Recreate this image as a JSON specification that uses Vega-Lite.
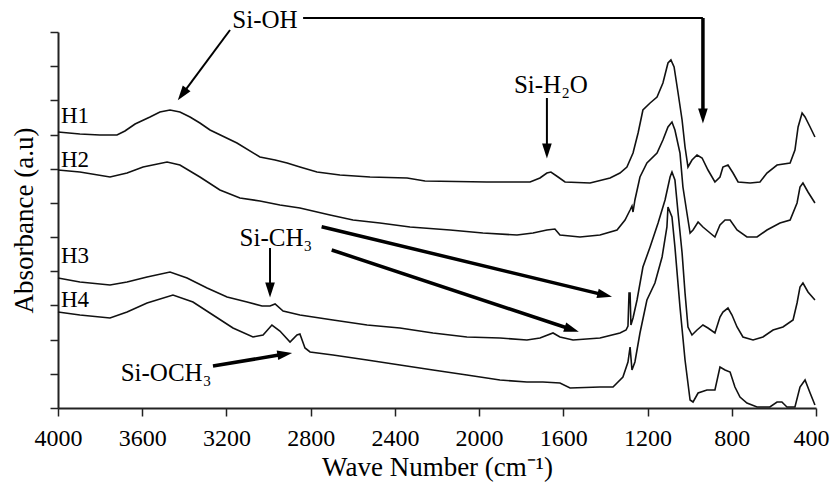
{
 "$schema": "https://vega.github.io/schema/vega-lite/v6.json",
 "width": 758, "height": 376,
 "autosize": {"type": "none"},
 "padding": {"left": 58, "top": 32, "right": 14, "bottom": 83},
 "background": "white",
 "config": {"view": {"stroke": null}, "font": "Liberation Serif, Times New Roman, serif"},
 "datasets": {
  "curves": [
   {"s":"H1","wn":4000,"a":276},{"s":"H1","wn":3896,"a":274},{"s":"H1","wn":3801,"a":273},{"s":"H1","wn":3720,"a":273},{"s":"H1","wn":3682,"a":277},{"s":"H1","wn":3634,"a":284},{"s":"H1","wn":3563,"a":291},{"s":"H1","wn":3516,"a":296},{"s":"H1","wn":3468,"a":298},{"s":"H1","wn":3421,"a":296},{"s":"H1","wn":3373,"a":291},{"s":"H1","wn":3326,"a":285},{"s":"H1","wn":3278,"a":278},{"s":"H1","wn":3150,"a":265},{"s":"H1","wn":3041,"a":251},{"s":"H1","wn":2969,"a":248},{"s":"H1","wn":2912,"a":245},{"s":"H1","wn":2851,"a":241},{"s":"H1","wn":2770,"a":236},{"s":"H1","wn":2661,"a":233},{"s":"H1","wn":2518,"a":231},{"s":"H1","wn":2342,"a":230},{"s":"H1","wn":2257,"a":227},{"s":"H1","wn":1963,"a":226},{"s":"H1","wn":1758,"a":226},{"s":"H1","wn":1711,"a":230},{"s":"H1","wn":1678,"a":235},{"s":"H1","wn":1659,"a":236},{"s":"H1","wn":1625,"a":231},{"s":"H1","wn":1592,"a":226},{"s":"H1","wn":1473,"a":225},{"s":"H1","wn":1378,"a":230},{"s":"H1","wn":1331,"a":235},{"s":"H1","wn":1298,"a":241},{"s":"H1","wn":1269,"a":255},{"s":"H1","wn":1245,"a":275},{"s":"H1","wn":1222,"a":298},{"s":"H1","wn":1188,"a":305},{"s":"H1","wn":1155,"a":311},{"s":"H1","wn":1127,"a":325},{"s":"H1","wn":1103,"a":345},{"s":"H1","wn":1089,"a":348},{"s":"H1","wn":1074,"a":341},{"s":"H1","wn":1055,"a":315},{"s":"H1","wn":1036,"a":288},{"s":"H1","wn":1022,"a":261},{"s":"H1","wn":1008,"a":241},{"s":"H1","wn":989,"a":248},{"s":"H1","wn":965,"a":253},{"s":"H1","wn":941,"a":250},{"s":"H1","wn":913,"a":238},{"s":"H1","wn":880,"a":226},{"s":"H1","wn":856,"a":231},{"s":"H1","wn":842,"a":241},{"s":"H1","wn":818,"a":243},{"s":"H1","wn":794,"a":235},{"s":"H1","wn":770,"a":226},{"s":"H1","wn":713,"a":225},{"s":"H1","wn":666,"a":226},{"s":"H1","wn":633,"a":235},{"s":"H1","wn":585,"a":243},{"s":"H1","wn":523,"a":245},{"s":"H1","wn":500,"a":258},{"s":"H1","wn":485,"a":281},{"s":"H1","wn":466,"a":295},{"s":"H1","wn":452,"a":291},{"s":"H1","wn":428,"a":281},{"s":"H1","wn":405,"a":271},
   {"s":"H2","wn":4000,"a":238},{"s":"H2","wn":3896,"a":236},{"s":"H2","wn":3753,"a":231},{"s":"H2","wn":3672,"a":235},{"s":"H2","wn":3596,"a":241},{"s":"H2","wn":3482,"a":246},{"s":"H2","wn":3421,"a":243},{"s":"H2","wn":3326,"a":231},{"s":"H2","wn":3231,"a":218},{"s":"H2","wn":3136,"a":210},{"s":"H2","wn":3041,"a":207},{"s":"H2","wn":2946,"a":203},{"s":"H2","wn":2851,"a":200},{"s":"H2","wn":2708,"a":193},{"s":"H2","wn":2599,"a":188},{"s":"H2","wn":2471,"a":185},{"s":"H2","wn":2328,"a":181},{"s":"H2","wn":2138,"a":178},{"s":"H2","wn":1982,"a":175},{"s":"H2","wn":1820,"a":173},{"s":"H2","wn":1744,"a":175},{"s":"H2","wn":1678,"a":178},{"s":"H2","wn":1640,"a":179},{"s":"H2","wn":1616,"a":173},{"s":"H2","wn":1568,"a":172},{"s":"H2","wn":1521,"a":171},{"s":"H2","wn":1426,"a":173},{"s":"H2","wn":1345,"a":178},{"s":"H2","wn":1307,"a":188},{"s":"H2","wn":1283,"a":198},{"s":"H2","wn":1274,"a":202},{"s":"H2","wn":1269,"a":196},{"s":"H2","wn":1260,"a":208},{"s":"H2","wn":1236,"a":231},{"s":"H2","wn":1203,"a":245},{"s":"H2","wn":1155,"a":255},{"s":"H2","wn":1127,"a":268},{"s":"H2","wn":1103,"a":281},{"s":"H2","wn":1084,"a":286},{"s":"H2","wn":1070,"a":278},{"s":"H2","wn":1046,"a":255},{"s":"H2","wn":1032,"a":221},{"s":"H2","wn":1013,"a":195},{"s":"H2","wn":998,"a":175},{"s":"H2","wn":984,"a":178},{"s":"H2","wn":960,"a":186},{"s":"H2","wn":937,"a":181},{"s":"H2","wn":903,"a":175},{"s":"H2","wn":880,"a":171},{"s":"H2","wn":856,"a":183},{"s":"H2","wn":832,"a":188},{"s":"H2","wn":808,"a":188},{"s":"H2","wn":775,"a":178},{"s":"H2","wn":728,"a":171},{"s":"H2","wn":680,"a":171},{"s":"H2","wn":633,"a":178},{"s":"H2","wn":571,"a":185},{"s":"H2","wn":523,"a":188},{"s":"H2","wn":490,"a":205},{"s":"H2","wn":476,"a":221},{"s":"H2","wn":462,"a":225},{"s":"H2","wn":438,"a":216},{"s":"H2","wn":405,"a":205},
   {"s":"H3","wn":4000,"a":130},{"s":"H3","wn":3896,"a":126},{"s":"H3","wn":3753,"a":123},{"s":"H3","wn":3672,"a":126},{"s":"H3","wn":3577,"a":131},{"s":"H3","wn":3468,"a":136},{"s":"H3","wn":3387,"a":130},{"s":"H3","wn":3292,"a":120},{"s":"H3","wn":3197,"a":111},{"s":"H3","wn":3102,"a":106},{"s":"H3","wn":3031,"a":102},{"s":"H3","wn":2993,"a":102},{"s":"H3","wn":2969,"a":104},{"s":"H3","wn":2931,"a":97},{"s":"H3","wn":2851,"a":93},{"s":"H3","wn":2694,"a":88},{"s":"H3","wn":2532,"a":83},{"s":"H3","wn":2376,"a":80},{"s":"H3","wn":2219,"a":75},{"s":"H3","wn":2058,"a":71},{"s":"H3","wn":1901,"a":70},{"s":"H3","wn":1773,"a":68},{"s":"H3","wn":1711,"a":70},{"s":"H3","wn":1649,"a":75},{"s":"H3","wn":1616,"a":71},{"s":"H3","wn":1554,"a":68},{"s":"H3","wn":1426,"a":70},{"s":"H3","wn":1331,"a":75},{"s":"H3","wn":1302,"a":78},{"s":"H3","wn":1293,"a":82},{"s":"H3","wn":1288,"a":115},{"s":"H3","wn":1283,"a":115},{"s":"H3","wn":1279,"a":83},{"s":"H3","wn":1269,"a":90},{"s":"H3","wn":1250,"a":108},{"s":"H3","wn":1222,"a":141},{"s":"H3","wn":1188,"a":161},{"s":"H3","wn":1150,"a":185},{"s":"H3","wn":1117,"a":208},{"s":"H3","wn":1093,"a":231},{"s":"H3","wn":1084,"a":236},{"s":"H3","wn":1070,"a":228},{"s":"H3","wn":1055,"a":195},{"s":"H3","wn":1036,"a":155},{"s":"H3","wn":1022,"a":115},{"s":"H3","wn":1008,"a":81},{"s":"H3","wn":989,"a":73},{"s":"H3","wn":965,"a":78},{"s":"H3","wn":937,"a":83},{"s":"H3","wn":913,"a":80},{"s":"H3","wn":880,"a":75},{"s":"H3","wn":856,"a":91},{"s":"H3","wn":842,"a":96},{"s":"H3","wn":818,"a":100},{"s":"H3","wn":799,"a":93},{"s":"H3","wn":775,"a":81},{"s":"H3","wn":747,"a":71},{"s":"H3","wn":699,"a":68},{"s":"H3","wn":652,"a":71},{"s":"H3","wn":604,"a":78},{"s":"H3","wn":557,"a":81},{"s":"H3","wn":509,"a":88},{"s":"H3","wn":490,"a":105},{"s":"H3","wn":476,"a":121},{"s":"H3","wn":462,"a":125},{"s":"H3","wn":438,"a":116},{"s":"H3","wn":405,"a":108},
   {"s":"H4","wn":4000,"a":96},{"s":"H4","wn":3896,"a":93},{"s":"H4","wn":3753,"a":90},{"s":"H4","wn":3672,"a":96},{"s":"H4","wn":3577,"a":105},{"s":"H4","wn":3454,"a":113},{"s":"H4","wn":3359,"a":106},{"s":"H4","wn":3264,"a":93},{"s":"H4","wn":3169,"a":80},{"s":"H4","wn":3074,"a":71},{"s":"H4","wn":3026,"a":73},{"s":"H4","wn":2984,"a":83},{"s":"H4","wn":2946,"a":77},{"s":"H4","wn":2898,"a":66},{"s":"H4","wn":2865,"a":73},{"s":"H4","wn":2851,"a":74},{"s":"H4","wn":2827,"a":60},{"s":"H4","wn":2803,"a":56},{"s":"H4","wn":2694,"a":53},{"s":"H4","wn":2532,"a":48},{"s":"H4","wn":2376,"a":43},{"s":"H4","wn":2219,"a":38},{"s":"H4","wn":2058,"a":33},{"s":"H4","wn":1901,"a":28},{"s":"H4","wn":1773,"a":26},{"s":"H4","wn":1697,"a":26},{"s":"H4","wn":1616,"a":25},{"s":"H4","wn":1568,"a":20},{"s":"H4","wn":1426,"a":21},{"s":"H4","wn":1364,"a":21},{"s":"H4","wn":1317,"a":31},{"s":"H4","wn":1293,"a":46},{"s":"H4","wn":1283,"a":61},{"s":"H4","wn":1274,"a":38},{"s":"H4","wn":1260,"a":46},{"s":"H4","wn":1236,"a":75},{"s":"H4","wn":1203,"a":108},{"s":"H4","wn":1165,"a":125},{"s":"H4","wn":1131,"a":151},{"s":"H4","wn":1108,"a":181},{"s":"H4","wn":1103,"a":201},{"s":"H4","wn":1084,"a":191},{"s":"H4","wn":1070,"a":161},{"s":"H4","wn":1046,"a":101},{"s":"H4","wn":1022,"a":48},{"s":"H4","wn":998,"a":8},{"s":"H4","wn":984,"a":6},{"s":"H4","wn":960,"a":15},{"s":"H4","wn":918,"a":18},{"s":"H4","wn":880,"a":18},{"s":"H4","wn":856,"a":41},{"s":"H4","wn":832,"a":38},{"s":"H4","wn":808,"a":36},{"s":"H4","wn":785,"a":21},{"s":"H4","wn":761,"a":11},{"s":"H4","wn":728,"a":5},{"s":"H4","wn":680,"a":1},{"s":"H4","wn":619,"a":1},{"s":"H4","wn":585,"a":6},{"s":"H4","wn":562,"a":6},{"s":"H4","wn":538,"a":1},{"s":"H4","wn":500,"a":1},{"s":"H4","wn":476,"a":21},{"s":"H4","wn":452,"a":28},{"s":"H4","wn":428,"a":15},{"s":"H4","wn":405,"a":3}
  ],
  "arrowsThin": [
   {"wn":3183,"a":378,"wn2":3410,"a2":313.6},
   {"wn":2836,"a":390,"wn2":937,"a2":390},
   {"wn":1678,"a":310,"wn2":1678,"a2":257},
   {"wn":2993,"a":160,"wn2":2993,"a2":118}
  ],
  "arrowsThick": [
   {"wn":937,"a":390,"wn2":937,"a2":292},
   {"wn":2748,"a":181.3,"wn2":1403,"a2":112.9},
   {"wn":2700,"a":158,"wn2":1560,"a2":78.5},
   {"wn":3264,"a":42,"wn2":2923,"a2":53.9}
  ],
  "heads": [
   {"wn":3410,"a":313.6,"angle":216.6},
   {"wn":937,"a":292,"angle":180},
   {"wn":1678,"a":257,"angle":180},
   {"wn":2993,"a":118,"angle":180},
   {"wn":1403,"a":112.9,"angle":103.6},
   {"wn":1560,"a":78.5,"angle":108.4},
   {"wn":2923,"a":53.9,"angle":80.6}
  ],
  "curveLabels": [
   {"wn":3986,"a":292.5,"text":"H1"},
   {"wn":3986,"a":248.5,"text":"H2"},
   {"wn":3986,"a":152.5,"text":"H3"},
   {"wn":3986,"a":108.5,"text":"H4"}
  ],
  "notes": [
   {"wn":3017,"a":388,"text":"Si-OH"},
   {"wn":1659,"a":323,"text":"Si-H₂O"},
   {"wn":2965,"a":170,"text":"Si-CH₃"},
   {"wn":3487,"a":35,"text":"Si-OCH₃"}
  ]
 },
 "encoding": {
  "x": {"field": "wn", "type": "quantitative",
   "scale": {"domain": [400, 4000], "reverse": true, "nice": false, "zero": false},
   "axis": {"title": "Wave Number (cm⁻¹)", "values": [4000,3600,3200,2800,2400,2000,1600,1200,800,400], "format": "d", "grid": false,
    "domainColor": "#222", "domainWidth": 2, "tickColor": "#222", "tickWidth": 1.5, "tickSize": 8,
    "labelFont": "Liberation Serif, Times New Roman, serif", "labelFontSize": 24, "labelColor": "#000", "labelPadding": 10, "labelFlush": false, "labelOverlap": false,
    "labelAlign": {"condition": {"test": "datum.value == 400", "value": "right"}, "value": "center"},
    "labelOffset": {"condition": {"test": "datum.value == 400", "value": 13}, "value": 0},
    "titleFont": "Liberation Serif, Times New Roman, serif", "titleFontSize": 27, "titleFontWeight": "normal", "titleColor": "#000", "titlePadding": 4}},
  "y": {"field": "a", "type": "quantitative",
   "scale": {"domain": [0, 376], "nice": false, "zero": false},
   "axis": {"title": "Absorbance (a.u)", "values": [0,34.18,68.36,102.55,136.73,170.91,205.09,239.27,273.45,307.64,341.82,376], "labels": false, "grid": false,
    "domainColor": "#222", "domainWidth": 2, "tickColor": "#222", "tickWidth": 1.5, "tickSize": 8,
    "titleFont": "Liberation Serif, Times New Roman, serif", "titleFontSize": 27, "titleFontWeight": "normal", "titleColor": "#000", "titlePadding": 11}}
 },
 "layer": [
  {"data": {"name": "curves"}, "mark": {"type": "line", "color": "#111", "strokeWidth": 1.6}, "encoding": {"detail": {"field": "s"}}},
  {"data": {"name": "arrowsThin"}, "mark": {"type": "rule", "color": "#000", "strokeWidth": 2}, "encoding": {"x2": {"field": "wn2"}, "y2": {"field": "a2"}}},
  {"data": {"name": "arrowsThick"}, "mark": {"type": "rule", "color": "#000", "strokeWidth": 3.5}, "encoding": {"x2": {"field": "wn2"}, "y2": {"field": "a2"}}},
  {"data": {"name": "heads"}, "mark": {"type": "point", "shape": "M0,-1L0.65,1L-0.65,1Z", "filled": true, "color": "#000", "opacity": 1, "size": 220}, "encoding": {"angle": {"field": "angle", "type": "quantitative", "scale": null}}},
  {"data": {"name": "curveLabels"}, "mark": {"type": "text", "align": "left", "baseline": "middle", "fontSize": 23, "font": "Liberation Serif, Times New Roman, serif", "color": "#000"}, "encoding": {"text": {"field": "text"}}},
  {"data": {"name": "notes"}, "mark": {"type": "text", "align": "center", "baseline": "middle", "fontSize": 25, "font": "Liberation Serif, Times New Roman, serif", "color": "#000"}, "encoding": {"text": {"field": "text"}}}
 ]
}
